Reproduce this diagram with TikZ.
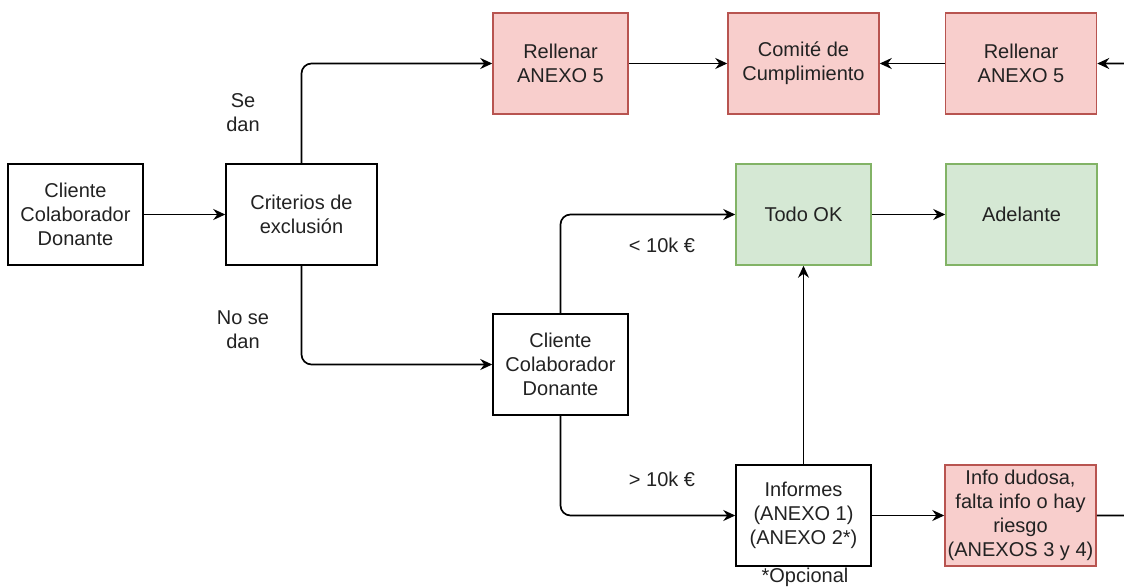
\documentclass[tikz,border=0pt]{standalone}
\usepackage{fontspec}
\setmainfont{Liberation Sans}
\usetikzlibrary{arrows.meta}
\definecolor{redfill}{HTML}{F8CECC}
\definecolor{redline}{HTML}{B85450}
\definecolor{greenfill}{HTML}{D5E8D4}
\definecolor{greenline}{HTML}{82B366}
\definecolor{txt}{HTML}{222222}
\begin{document}
\begin{tikzpicture}[x=1pt,y=-1pt,
  every node/.style={font=\fontsize{20}{24}\selectfont, text=txt, align=center},
  box/.style={draw=black, line width=1.5pt, minimum height=101pt, inner sep=0pt},
  narrow/.style={box, minimum width=135pt},
  wide/.style={box, minimum width=151pt},
  redbox/.style={fill=redfill, draw=redline},
  greenbox/.style={fill=greenfill, draw=greenline},
  conn/.style={draw=black, line width=1.7pt, rounded corners=10pt, -{Stealth[length=12pt,width=11pt,inset=4pt]}},
  lbl/.style={inner sep=1pt}]
\useasboundingbox (0,0) rectangle (1124,588);
\begin{scope}
\clip (0,0) rectangle (1124,588);
\node[narrow] (c1) at (75.5,214.5) {Cliente\\Colaborador\\Donante};
\node[wide] (crit) at (301.5,214.5) {Criterios de\\exclusión};
\node[narrow, redbox] (r1) at (560.5,63.5) {Rellenar\\ANEXO 5};
\node[wide, redbox] (com) at (803.5,63.5) {Comité de\\Cumplimiento};
\node[wide, redbox] (r2) at (1021,63.5) {Rellenar\\ANEXO 5};
\node[narrow, greenbox] (ok) at (803.5,214.5) {Todo OK};
\node[wide, greenbox] (adel) at (1021.5,214.5) {Adelante};
\node[narrow] (c2) at (560.5,364.5) {Cliente\\Colaborador\\Donante};
\node[narrow] (inf) at (803.5,515.5) {Informes\\(ANEXO 1)\\(ANEXO 2*)};
\node[wide, redbox] (info) at (1020.5,515.5) {Info dudosa,\\falta info o hay\\riesgo\\(ANEXOS 3 y 4)};
\coordinate (rt1) at (1134,515.5);
\coordinate (rt2) at (1134,63.5);

\node[lbl] (sedan) at (243,113) {Se\\dan};
\node[lbl] (nosedan) at (243,329.5) {No se\\dan};
\node[lbl] (lt) at (662,245) {< 10k €};
\node[lbl] (gt) at (662,479) {> 10k €};
\node[lbl] (opc) at (805,577) {*Opcional};

\draw[conn] (c1.east) -- (crit.west);
\draw[conn] (crit.north) |- (r1.west);
\draw[conn] (crit.south) |- (c2.west);
\draw[conn] (r1.east) -- (com.west);
\draw[conn] (r2.west) -- (com.east);
\draw[conn] (info.east) -- (rt1) -- (rt2) -- (r2.east);
\draw[conn] (c2.north) |- (ok.west);
\draw[conn] (c2.south) |- (inf.west);
\draw[conn] (inf.north) -- (ok.south);
\draw[conn] (inf.east) -- (info.west);
\draw[conn] (ok.east) -- (adel.west);
\end{scope}
\end{tikzpicture}
\end{document}
